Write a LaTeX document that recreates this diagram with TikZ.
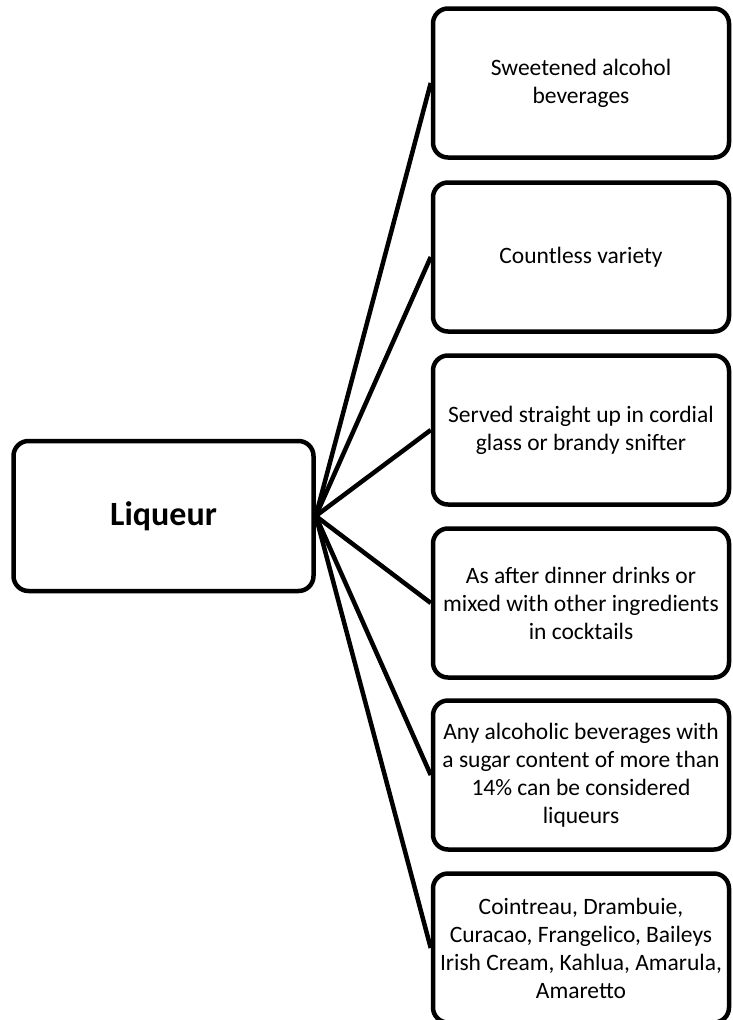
\documentclass[tikz,border=0pt]{standalone}
\usepackage{fontspec}
\setmainfont{Carlito}
\begin{document}
\begin{tikzpicture}[x=1pt,y=-1pt,
  box/.style={draw=black, line width=4.5pt, rounded corners=15pt, fill=white,
    align=center, inner sep=2pt},
  leaf/.style={box, minimum width=296pt, minimum height=149pt,
    font=\fontsize{23.5}{28}\selectfont},
  root/.style={box, minimum width=300pt, minimum height=150pt,
    font=\fontsize{34}{40}\selectfont\bfseries},
  link/.style={line width=4.5pt}]
\useasboundingbox (0,0) rectangle (733,1020);

\node[root] (root) at (163.5,516) {Liqueur};

\node[leaf] (a) at (581,83)  {Sweetened alcohol\\beverages};
\node[leaf] (b) at (581,257) {Countless variety};
\node[leaf] (c) at (581,430) {Served straight up in cordial\\glass or brandy snifter};
\node[leaf] (d) at (581,603) {As after dinner drinks or\\mixed with other ingredients\\in cocktails};
\node[leaf] (e) at (581,775) {Any alcoholic beverages with\\a sugar content of more than\\14\% can be considered\\liqueurs};
\node[leaf] (f) at (581,948) {Cointreau, Drambuie,\\Curacao, Frangelico, Baileys\\Irish Cream, Kahlua, Amarula,\\Amaretto};

\foreach \n in {a,b,c,d,e,f}
  \draw[link] (root.east) -- (\n.west);
\end{tikzpicture}
\end{document}
